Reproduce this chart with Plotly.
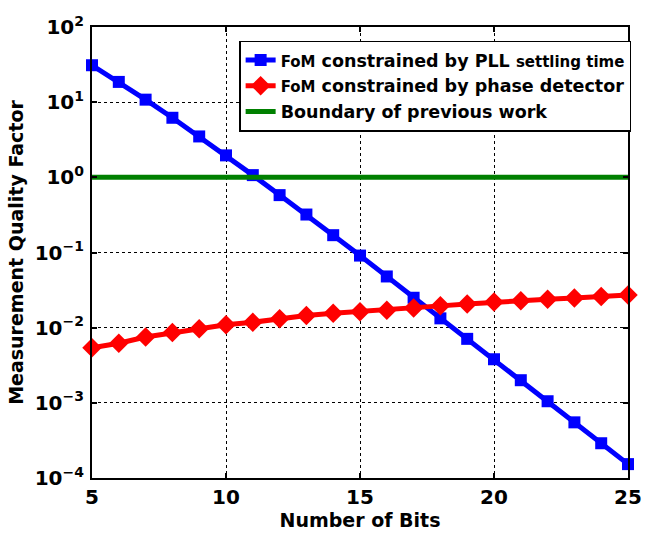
import plotly.graph_objects as go

bits = list(range(5, 26))
fom_pll = [31.0, 18.6, 10.8, 6.2, 3.5, 1.96, 1.07, 0.58, 0.32, 0.17, 0.091,
           0.048, 0.025, 0.0133, 0.0071, 0.0038, 0.0020, 0.00105, 0.00055,
           0.00029, 0.000153]
fom_pd = [0.0054, 0.0062, 0.0075, 0.0086, 0.0097, 0.0109, 0.0118, 0.0131,
          0.0145, 0.0155, 0.0163, 0.0171, 0.0182, 0.0195, 0.0207, 0.0219,
          0.0228, 0.0239, 0.0249, 0.0260, 0.0272]
boundary = [1.0] * len(bits)

x_ticks = [5, 10, 15, 20, 25]
y_tickvals = [1e-4, 1e-3, 1e-2, 1e-1, 1e0, 1e1, 1e2]
y_ticktext = ["10<sup>−4</sup>", "10<sup>−3</sup>", "10<sup>−2</sup>",
              "10<sup>−1</sup>", "10<sup>0</sup>", "10<sup>1</sup>", "10<sup>2</sup>"]

name_pll = ("<span style='font-size:15px'>FoM</span> constrained by PLL "
            "<span style='font-size:15px'>settling time</span>")
name_pd = "<span style='font-size:15px'>FoM</span> constrained by phase detector"
name_bd = "Boundary of previous work"

FONT = "DejaVu Sans"

fig = go.Figure()
fig.add_trace(go.Scatter(x=bits, y=fom_pll, name=name_pll, mode="lines+markers",
                         line=dict(color="#0000FF", width=5),
                         marker=dict(symbol="square", size=12, color="#0000FF"),
                         cliponaxis=False))
fig.add_trace(go.Scatter(x=bits, y=fom_pd, name=name_pd, mode="lines+markers",
                         line=dict(color="#FF0000", width=5),
                         marker=dict(symbol="diamond", size=15, color="#FF0000"),
                         cliponaxis=False))
fig.add_trace(go.Scatter(x=bits, y=boundary, name=name_bd, mode="lines",
                         line=dict(color="#008000", width=5)))

fig.update_layout(
    width=654, height=538,
    margin=dict(l=92, r=12, t=27, b=53),
    paper_bgcolor="white", plot_bgcolor="white",
    font=dict(family=FONT, color="black"),
    legend=dict(x=0.2745, y=0.97, xanchor="left", yanchor="top",
                bgcolor="white", bordercolor="black", borderwidth=1.5,
                font=dict(family=FONT, size=17.5, color="black", weight="bold"),
                tracegroupgap=0, itemwidth=30),
    showlegend=True,
)
fig.update_xaxes(
    range=[5, 25], tickvals=x_ticks, ticks="inside", ticklen=5, tickwidth=1.5,
    tickcolor="black", showline=True, linecolor="black", linewidth=2,
    mirror="ticks", showgrid=True, gridcolor="black", gridwidth=1, griddash="dot",
    zeroline=False,
    tickfont=dict(family=FONT, size=20, color="black", weight="bold"),
    title=dict(text="Number of Bits", standoff=4,
               font=dict(family=FONT, size=19, color="black", weight="bold")),
)
fig.update_yaxes(
    type="log", range=[-4, 2], tickvals=y_tickvals, ticktext=y_ticktext,
    ticks="inside", ticklen=5, tickwidth=1.5, tickcolor="black",
    showline=True, linecolor="black", linewidth=2, mirror="ticks",
    showgrid=True, gridcolor="black", gridwidth=1, griddash="dot",
    zeroline=False, ticklabelstandoff=2,
    tickfont=dict(family=FONT, size=20, color="black", weight="bold"),
    title=dict(text="Measurement Quality Factor", standoff=6,
               font=dict(family=FONT, size=19, color="black", weight="bold")),
)

fig.write_html("out.html")
